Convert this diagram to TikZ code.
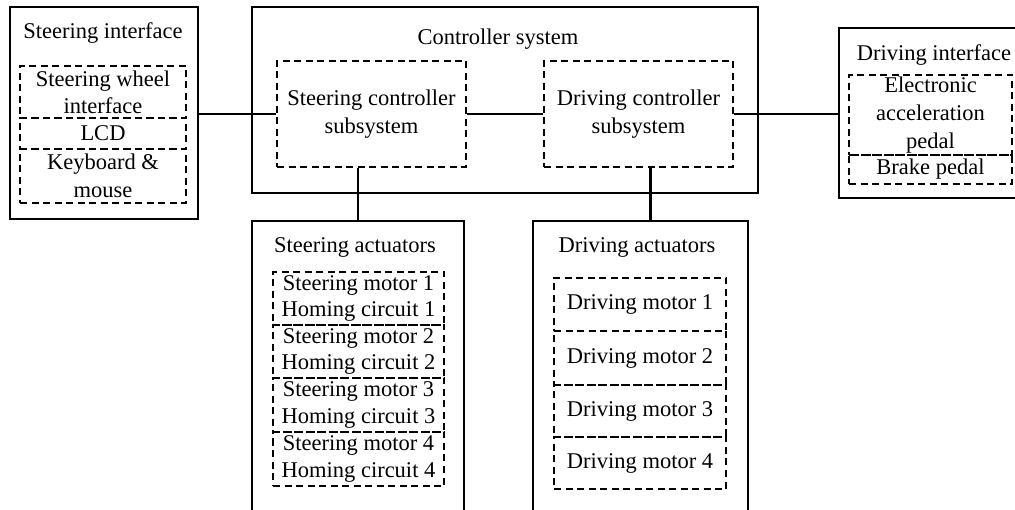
\documentclass[tikz,border=0pt]{standalone}
\usepackage{fontspec}
\setmainfont{Liberation Serif}
\begin{document}
\begin{tikzpicture}[x=1pt,y=-1pt,
  outer/.style={draw, line width=1.4pt, inner sep=0pt},
  dbox/.style={draw, line width=1.3pt, dash pattern=on 7pt off 4.5pt, inner sep=0pt, align=center},
  ttl/.style={inner sep=0pt, align=center},
  conn/.style={line width=2.8pt},
  every node/.append style={font=\fontsize{22.5}{28}\selectfont}]
\useasboundingbox (0,0) rectangle (1015,510);
% outer boxes
\node[outer, minimum width=188, minimum height=212] (si) at (104,113) {};
\node[outer, minimum width=506, minimum height=186] (cs) at (505,100) {};
\node[outer, minimum width=191, minimum height=170] (di) at (934.5,113) {};
\node[outer, minimum width=212, minimum height=309] (sa) at (358,375.5) {};
\node[outer, minimum width=215, minimum height=309] (da) at (640.5,375.5) {};
% titles
\node[ttl] (sit) at (103,33) {Steering interface};
\node[ttl] (cst) at (498,39) {Controller system};
\node[ttl] (dit) at (934,55) {Driving interface};
\node[ttl] (sat) at (355,247) {Steering actuators};
\node[ttl] (dat) at (637,247) {Driving actuators};
% steering interface parts
\node[dbox, minimum width=166, minimum height=52, font=\fontsize{22.5}{27}\selectfont] (sw) at (103,92) {Steering wheel\\interface};
\node[dbox, minimum width=166, minimum height=31] (lcd) at (103,133.5) {LCD};
\node[dbox, minimum width=166, minimum height=54] (kb) at (103,176) {Keyboard \&\\mouse};
% controller subsystems
\node[dbox, minimum width=189, minimum height=106] (sc) at (371.5,114) {Steering controller\\subsystem};
\node[dbox, minimum width=189, minimum height=106] (dc) at (638.5,114) {Driving controller\\subsystem};
% driving interface parts
\node[dbox, minimum width=163, minimum height=80] (eap) at (930.5,115) {Electronic\\acceleration\\pedal};
\node[dbox, minimum width=163, minimum height=29] (bp) at (930.5,169.5) {Brake pedal};
% steering actuators
\tikzset{smf/.style={font=\fontsize{22.5}{26.5}\selectfont}}
\node[dbox, smf, minimum width=171, minimum height=53] (sm1) at (358.5,298.5) {Steering motor 1\\Homing circuit 1};
\node[dbox, smf, minimum width=171, minimum height=53] (sm2) at (358.5,351.5) {Steering motor 2\\Homing circuit 2};
\node[dbox, smf, minimum width=171, minimum height=54] (sm3) at (358.5,405) {Steering motor 3\\Homing circuit 3};
\node[dbox, smf, minimum width=171, minimum height=54] (sm4) at (358.5,459) {Steering motor 4\\Homing circuit 4};
% driving actuators
\node[dbox, minimum width=172, minimum height=53] (dm1) at (640,304.5) {Driving motor 1};
\node[dbox, minimum width=172, minimum height=54] (dm2) at (640,358) {Driving motor 2};
\node[dbox, minimum width=172, minimum height=52] (dm3) at (640,411) {Driving motor 3};
\node[dbox, minimum width=172, minimum height=52] (dm4) at (640,463) {Driving motor 4};
% connectors
\draw[conn] (sc.west -| si.east) -- (sc.west);
\draw[conn] (sc.east) -- (dc.west);
\draw[conn] (dc.east) -- (dc.east -| di.west);
\draw[conn] (sc.south -| sa.north) -- (sa.north);
\draw[conn] ([xshift=12pt]dc.south) -- ([xshift=12pt]dc.south |- da.north);
\end{tikzpicture}
\end{document}
